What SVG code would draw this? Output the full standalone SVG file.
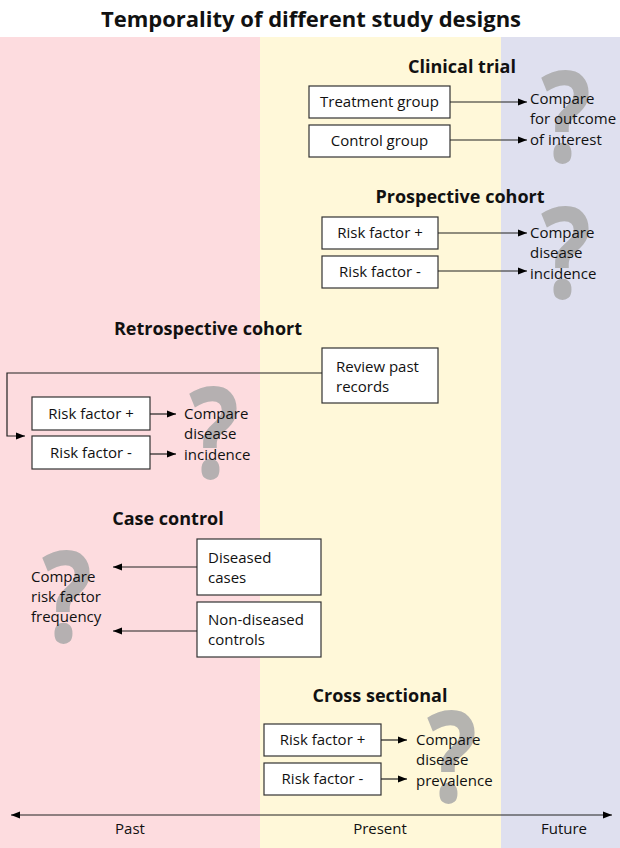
<svg xmlns="http://www.w3.org/2000/svg" width="620" height="848" viewBox="0 0 620 848">
<defs>
<marker id="ah" viewBox="0 0 10 10" refX="10" refY="5" markerWidth="9" markerHeight="9" markerUnits="userSpaceOnUse" orient="auto-start-reverse">
<path d="M0,1 L10,5 L0,9 Z" fill="#000"/>
</marker>
<style>
.t{font-family:"Open Sans","Noto Sans",sans-serif;font-size:15px;fill:#111}
.h{font-family:"Open Sans","Noto Sans",sans-serif;font-size:18px;font-weight:bold;fill:#111;text-anchor:middle}
.q{font-family:"Open Sans","Noto Sans",sans-serif;font-size:128px;font-weight:bold;fill:#a9a9a9;opacity:0.85;text-anchor:middle}
.box{fill:#fff;stroke:#333;stroke-width:1.2}
.c{fill:none;stroke:#222;stroke-width:1.2}
.m{text-anchor:middle}
</style>
</defs>
<rect x="0" y="0" width="620" height="848" fill="#fff"/>
<rect x="0" y="37" width="260" height="811" fill="#fddcdf"/>
<rect x="260" y="37" width="241" height="811" fill="#fff8d9"/>
<rect x="501" y="37" width="119" height="811" fill="#dfe0ef"/>
<text x="311" y="27" class="h" style="font-size:22px">Temporality of different study designs</text>

<g id="questionmarks">
<text transform="translate(566,162) scale(0.82,1)" class="q">?</text>
<text transform="translate(566,298) scale(0.82,1)" class="q">?</text>
<text transform="translate(214,478) scale(0.82,1)" class="q">?</text>
<text transform="translate(67,642) scale(0.82,1)" class="q">?</text>
<text transform="translate(452,802) scale(0.82,1)" class="q">?</text>
</g>

<g id="clinical-trial">
<text x="462" y="73" class="h">Clinical trial</text>
<g id="treatment-group"><rect x="309" y="86" width="141" height="32" class="box"/><text x="379.5" y="107" class="t m">Treatment group</text></g>
<g id="control-group"><rect x="309" y="125" width="141" height="32" class="box"/><text x="379.5" y="146" class="t m">Control group</text></g>
<g id="ct-compare"><text class="t"><tspan x="530" y="104">Compare</tspan><tspan x="530" y="124">for outcome</tspan><tspan x="530" y="145">of interest</tspan></text></g>
</g>

<g id="prospective-cohort">
<text x="460" y="203" class="h">Prospective cohort</text>
<g id="pc-rf-plus"><rect x="322" y="217" width="116" height="32" class="box"/><text x="380" y="238" class="t m">Risk factor +</text></g>
<g id="pc-rf-minus"><rect x="322" y="256" width="116" height="32" class="box"/><text x="380" y="277" class="t m">Risk factor  -</text></g>
<g id="pc-compare"><text class="t"><tspan x="530" y="238">Compare</tspan><tspan x="530" y="258">disease</tspan><tspan x="530" y="279">incidence</tspan></text></g>
</g>

<g id="retrospective-cohort">
<text x="208" y="335" class="h">Retrospective cohort</text>
<g id="review-past-records"><rect x="322" y="348" width="116" height="55" class="box"/><text class="t"><tspan x="336" y="372">Review past</tspan><tspan x="336" y="392">records</tspan></text></g>
<g id="rc-rf-plus"><rect x="32" y="397" width="118" height="33" class="box"/><text x="91" y="419" class="t m">Risk factor +</text></g>
<g id="rc-rf-minus"><rect x="32" y="436" width="118" height="33" class="box"/><text x="91" y="458" class="t m">Risk factor  -</text></g>
<g id="rc-compare"><text class="t"><tspan x="184" y="419">Compare</tspan><tspan x="184" y="439">disease</tspan><tspan x="184" y="460">incidence</tspan></text></g>
</g>

<g id="case-control">
<text x="168" y="525" class="h">Case control</text>
<g id="diseased-cases"><rect x="197" y="539" width="124" height="56" class="box"/><text class="t"><tspan x="208" y="563">Diseased</tspan><tspan x="208" y="583">cases</tspan></text></g>
<g id="non-diseased-controls"><rect x="197" y="602" width="124" height="55" class="box"/><text class="t"><tspan x="208" y="625">Non-diseased</tspan><tspan x="208" y="645">controls</tspan></text></g>
<g id="cc-compare"><text class="t"><tspan x="31" y="582">Compare</tspan><tspan x="31" y="602">risk factor</tspan><tspan x="31" y="622">frequency</tspan></text></g>
</g>

<g id="cross-sectional">
<text x="380" y="702" class="h">Cross sectional</text>
<g id="cs-rf-plus"><rect x="264" y="724" width="117" height="32" class="box"/><text x="322.5" y="745" class="t m">Risk factor +</text></g>
<g id="cs-rf-minus"><rect x="264" y="763" width="117" height="32" class="box"/><text x="322.5" y="784" class="t m">Risk factor  -</text></g>
<g id="cs-compare"><text class="t"><tspan x="416" y="745">Compare</tspan><tspan x="416" y="765">disease</tspan><tspan x="416" y="786">prevalence</tspan></text></g>
</g>

<g id="connectors">
<line x1="450" y1="102" x2="527" y2="102" class="c" marker-end="url(#ah)"/>
<line x1="450" y1="140" x2="527" y2="140" class="c" marker-end="url(#ah)"/>
<line x1="438" y1="233" x2="527" y2="233" class="c" marker-end="url(#ah)"/>
<line x1="438" y1="271" x2="527" y2="271" class="c" marker-end="url(#ah)"/>
<polyline points="322,373 7,373 7,436 25,436" class="c" marker-end="url(#ah)"/>
<line x1="150" y1="414" x2="176" y2="414" class="c" marker-end="url(#ah)"/>
<line x1="150" y1="454" x2="176" y2="454" class="c" marker-end="url(#ah)"/>
<line x1="197" y1="567" x2="113" y2="567" class="c" marker-end="url(#ah)"/>
<line x1="197" y1="631" x2="113" y2="631" class="c" marker-end="url(#ah)"/>
<line x1="381" y1="740" x2="407" y2="740" class="c" marker-end="url(#ah)"/>
<line x1="381" y1="779" x2="407" y2="779" class="c" marker-end="url(#ah)"/>
</g>

<g id="timeline">
<line x1="11" y1="815" x2="612" y2="815" class="c" marker-start="url(#ah)" marker-end="url(#ah)"/>
<text x="130" y="834" class="t m">Past</text>
<text x="380" y="834" class="t m">Present</text>
<text x="564" y="834" class="t m">Future</text>
</g>
</svg>
